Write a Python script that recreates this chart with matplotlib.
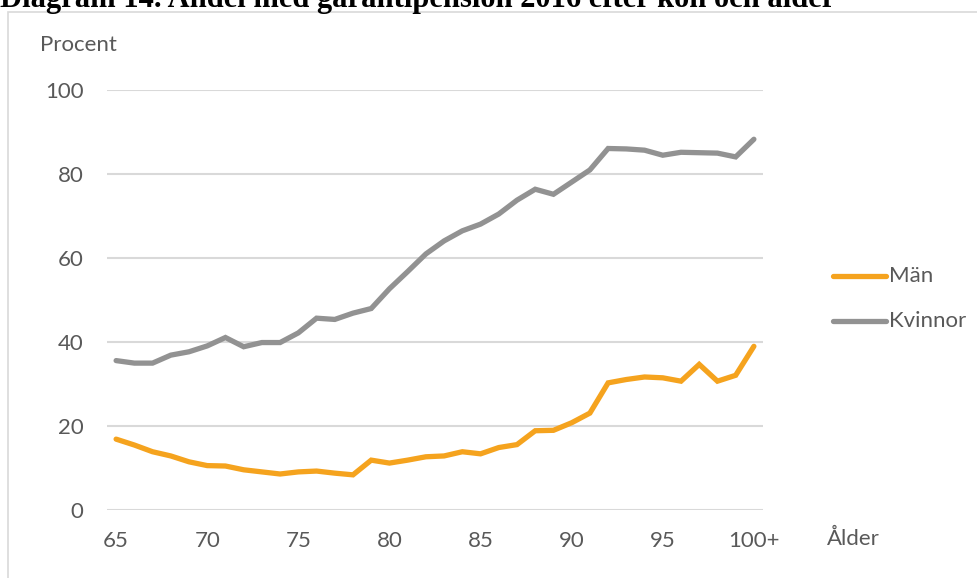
import matplotlib
matplotlib.use("Agg")
import matplotlib.pyplot as plt
from matplotlib.patches import Rectangle
from matplotlib.lines import Line2D

ages = list(range(65, 101))
man = [16.8, 15.4, 13.8, 12.8, 11.4, 10.5, 10.4, 9.5, 9.0, 8.5,
       9.0, 9.2, 8.7, 8.3, 11.8, 11.1, 11.8, 12.6, 12.8, 13.8,
       13.3, 14.8, 15.5, 18.8, 18.9, 20.7, 23.0, 30.2, 31.0, 31.6,
       31.4, 30.6, 34.6, 30.6, 32.0, 38.9]
kvinnor = [35.5, 34.9, 34.9, 36.8, 37.6, 39.0, 41.0, 38.8, 39.8, 39.8,
           42.1, 45.6, 45.3, 46.8, 47.9, 52.6, 56.7, 60.9, 64.0, 66.4,
           68.0, 70.4, 73.7, 76.3, 75.1, 78.0, 80.9, 86.0, 85.9, 85.6,
           84.4, 85.1, 85.0, 84.9, 84.0, 88.2]
xticks = [65, 70, 75, 80, 85, 90, 95, 100]
xticklabels = ["65", "70", "75", "80", "85", "90", "95", "100+"]
yticks = [0, 20, 40, 60, 80, 100]

title = "Diagram 14. Andel med garantipension 2016 efter kön och ålder"
FONT = "Lato"
TXT = "#595959"
W, H = 977, 578

fig = plt.figure(figsize=(W / 100, H / 100), dpi=100)

# chart frame
fig.patches.append(Rectangle((8 / W, -0.05), 1.1, 1 - 12 / H + 0.05,
                             transform=fig.transFigure, fill=False,
                             edgecolor="#D9D9D9", linewidth=1.2))

fig.text(0, 1 - 7 / H, title, fontsize=22, fontweight="bold",
         family="Liberation Serif", va="baseline", ha="left", color="black")

left, right = 107 / W, 763 / W
bottom, top = (H - 509.7) / H, (H - 89.7) / H
ax = fig.add_axes([left, bottom, right - left, top - bottom])
ax.set_xlim(64.5, 100.5)
ax.set_ylim(0, 100)
for s in ax.spines.values():
    s.set_visible(False)
ax.set_yticks(yticks)
ax.grid(axis="y", color="#D9D9D9", linewidth=1.5)
ax.set_axisbelow(True)
ax.tick_params(length=0)
ax.set_xticks(xticks)
ax.set_xticklabels(xticklabels)
for lab in ax.get_xticklabels() + ax.get_yticklabels():
    lab.set_family(FONT)
    lab.set_fontsize(16)
    lab.set_color(TXT)
ax.tick_params(axis="y", pad=17)
ax.tick_params(axis="x", pad=15)

ax.plot(ages, man, color="#F5A31E", linewidth=3.8, solid_capstyle="round",
        solid_joinstyle="miter", label="Män")
ax.plot(ages, kvinnor, color="#929292", linewidth=3.8, solid_capstyle="round",
        solid_joinstyle="miter", label="Kvinnor")

fig.text(40 / W, 1 - 45 / H, "Procent", family=FONT, fontsize=16, color=TXT,
         va="center", ha="left")
fig.text(827 / W, 1 - 539 / H, "Ålder", family=FONT, fontsize=16, color=TXT,
         va="center", ha="left")

# legend
for yy, col, name in [(276, "#F5A31E", "Män"), (321, "#929292", "Kvinnor")]:
    fig.lines.append(Line2D([833 / W, 886 / W], [1 - yy / H, 1 - yy / H],
                            transform=fig.transFigure, color=col,
                            linewidth=3.8, solid_capstyle="round"))
    fig.text(889 / W, 1 - yy / H, name, family=FONT, fontsize=16, color=TXT,
             va="center", ha="left")

fig.savefig("out.png", dpi=100)
